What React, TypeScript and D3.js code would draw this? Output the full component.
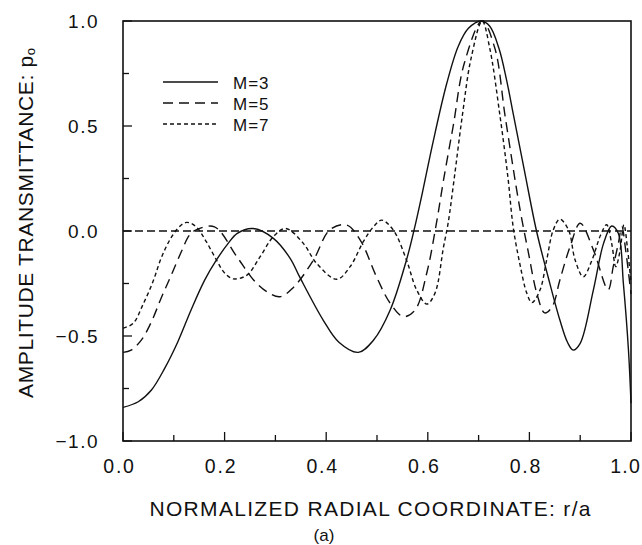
import React from "react";
import * as d3 from "d3";

// ---- data ----
const m3: [number, number][] = [
  [0, -0.84], [0.03, -0.813], [0.056, -0.757], [0.082, -0.654], [0.108, -0.527],
  [0.134, -0.376], [0.161, -0.233], [0.184, -0.138], [0.207, -0.059], [0.225, -0.011],
  [0.256, 0.012], [0.296, -0.035], [0.329, -0.13], [0.348, -0.22], [0.394, -0.424],
  [0.425, -0.53], [0.463, -0.578], [0.493, -0.52], [0.526, -0.376], [0.558, -0.138],
  [0.573, 0.005], [0.59, 0.19], [0.61, 0.42], [0.637, 0.7], [0.66, 0.88],
  [0.68, 0.965], [0.705, 1.0], [0.722, 0.975], [0.74, 0.87], [0.755, 0.72],
  [0.768, 0.56], [0.79, 0.29], [0.814, 0.0], [0.837, -0.22], [0.86, -0.424],
  [0.875, -0.53], [0.886, -0.567], [0.9, -0.535], [0.926, -0.28], [0.946, -0.059],
  [0.962, 0.024], [0.975, -0.011], [0.985, -0.25], [0.995, -0.567], [1.0, -0.82],
];
const m5: [number, number][] = [
  [0, -0.578], [0.016, -0.567], [0.036, -0.52], [0.056, -0.432], [0.075, -0.32],
  [0.095, -0.21], [0.115, -0.098], [0.131, -0.019], [0.144, 0.005], [0.18, 0.02],
  [0.224, -0.122], [0.257, -0.233], [0.283, -0.289], [0.309, -0.313], [0.335, -0.27],
  [0.375, -0.138], [0.407, 0.005], [0.44, 0.029], [0.467, -0.043], [0.499, -0.218],
  [0.526, -0.344], [0.552, -0.408], [0.575, -0.376], [0.598, -0.2], [0.617, 0.037],
  [0.631, 0.243], [0.65, 0.5], [0.672, 0.8], [0.707, 1.0], [0.732, 0.87],
  [0.752, 0.55], [0.775, 0.195], [0.784, 0.07], [0.797, -0.09], [0.815, -0.3],
  [0.83, -0.39], [0.845, -0.36], [0.86, -0.233], [0.88, -0.075], [0.9, 0.037],
  [0.926, -0.09], [0.955, -0.28], [0.965, -0.17], [0.975, -0.06], [0.982, 0.02],
  [0.99, -0.1], [1.0, -0.3],
];
const m7: [number, number][] = [
  [0, -0.463], [0.02, -0.44], [0.039, -0.352], [0.059, -0.241], [0.075, -0.13],
  [0.092, -0.043], [0.108, 0.013], [0.125, 0.041], [0.144, 0.02], [0.164, -0.051],
  [0.184, -0.138], [0.2, -0.2], [0.217, -0.228], [0.244, -0.21], [0.27, -0.122],
  [0.296, -0.027], [0.32, 0.012], [0.355, -0.059], [0.381, -0.154], [0.421, -0.23],
  [0.447, -0.17], [0.473, -0.051], [0.493, 0.02], [0.509, 0.052], [0.532, 0.005],
  [0.558, -0.138], [0.578, -0.28], [0.598, -0.348], [0.614, -0.297], [0.631, -0.075],
  [0.64, 0.037], [0.652, 0.25], [0.668, 0.55], [0.685, 0.82], [0.707, 1.0],
  [0.722, 0.87], [0.742, 0.55], [0.758, 0.25], [0.768, 0.02], [0.781, -0.154],
  [0.795, -0.297], [0.805, -0.341], [0.821, -0.28], [0.834, -0.138], [0.847, 0.005],
  [0.86, 0.056], [0.877, 0.005], [0.89, -0.138], [0.906, -0.218], [0.923, -0.14],
  [0.94, -0.02], [0.952, 0.03], [0.962, -0.06], [0.97, -0.17], [0.978, -0.1],
  [0.986, 0.03], [0.993, -0.08], [1.0, -0.25],
];

const seriesNames = ["M=3", "M=5", "M=7"];
const xMajor = [0, 0.2, 0.4, 0.6, 0.8, 1.0];
const xMajorLabels = ["0.0", "0.2", "0.4", "0.6", "0.8", "1.0"];
const xMinor = [0.1, 0.3, 0.5, 0.7, 0.9];
const yMajor = [-1, -0.5, 0, 0.5, 1];
const yMajorLabels = ["\u22121.0", "\u22120.5", "0.0", "0.5", "1.0"];
const yMinor = [-0.75, -0.25, 0.25, 0.75];
const xTitle = "NORMALIZED RADIAL COORDINATE: r/a";
const yTitle = "AMPLITUDE TRANSMITTANCE: ";

const W = 642, H = 545;
const L = 123, R = 631, T = 21, B = 441;
const FONT = "'Liberation Sans', Arial, sans-serif";

export default function App() {
  const x = d3.scaleLinear().domain([0, 1]).range([L, R]);
  const y = d3.scaleLinear().domain([-1, 1]).range([B, T]);
  const line = d3
    .line<[number, number]>()
    .x((d) => x(d[0]))
    .y((d) => y(d[1]))
    .curve(d3.curveCatmullRom.alpha(0.5));

  const series = [
    { data: m3, dash: "none" },
    { data: m5, dash: "10,6" },
    { data: m7, dash: "4,3" },
  ];

  return (
    <svg width={W} height={H} style={{ position: "absolute", left: 0, top: 0, background: "#fff" }}>
      <rect x={0} y={0} width={W} height={H} fill="#fff" />
      <defs>
        <clipPath id="plot">
          <rect x={L} y={T - 2} width={R - L + 1} height={B - T + 4} />
        </clipPath>
      </defs>

      {/* zero reference line */}
      <line x1={x(0)} x2={x(1)} y1={y(0)} y2={y(0)} stroke="#111" strokeWidth={1.3} strokeDasharray="8,4" />

      {/* curves */}
      <g clipPath="url(#plot)">
        {series.map((s, i) => (
          <path
            key={i}
            d={line(s.data) || ""}
            fill="none"
            stroke="#111"
            strokeWidth={1.4}
            strokeDasharray={s.dash}
          />
        ))}
      </g>

      {/* frame */}
      <rect x={L} y={T} width={R - L} height={B - T} fill="none" stroke="#111" strokeWidth={1.6} />

      {/* y ticks */}
      {yMajor.map((v, i) => (
        <g key={"ym" + i}>
          <line x1={L} x2={L + 9} y1={y(v)} y2={y(v)} stroke="#111" strokeWidth={1.3} />
          <text
            x={99}
            y={y(v)}
            dy="0.36em"
            textAnchor="end"
            fontFamily={FONT}
            fontSize={19}
            letterSpacing={1.5}
            fill="#111"
          >
            {yMajorLabels[i]}
          </text>
        </g>
      ))}
      {yMinor.map((v, i) => (
        <line key={"yn" + i} x1={L} x2={L + 6} y1={y(v)} y2={y(v)} stroke="#111" strokeWidth={1.3} />
      ))}

      {/* x ticks */}
      {xMajor.map((v, i) => (
        <g key={"xm" + i}>
          <line x1={x(v)} x2={x(v)} y1={B} y2={B - 9} stroke="#111" strokeWidth={1.3} />
          <text
            x={i === xMajor.length - 1 ? 641 : x(v) - 3.5}
            y={473}
            textAnchor={i === xMajor.length - 1 ? "end" : "middle"}
            fontFamily={FONT}
            fontSize={19.5}
            letterSpacing={i === xMajor.length - 1 ? 1.2 : 1.8}
            fill="#111"
          >
            {xMajorLabels[i]}
          </text>
        </g>
      ))}
      {xMinor.map((v, i) => (
        <line key={"xn" + i} x1={x(v)} x2={x(v)} y1={B} y2={B - 6} stroke="#111" strokeWidth={1.3} />
      ))}

      {/* legend */}
      {series.map((s, i) => (
        <g key={"lg" + i}>
          <line
            x1={163}
            x2={218}
            y1={82 + i * 21}
            y2={82 + i * 21}
            stroke="#111"
            strokeWidth={1.4}
            strokeDasharray={s.dash}
          />
          <text
            x={233}
            y={82 + i * 21 + 6.5}
            fontFamily={FONT}
            fontSize={17}
            letterSpacing={1}
            fill="#111"
          >
            {seriesNames[i]}
          </text>
        </g>
      ))}

      {/* axis titles */}
      <text
        x={370}
        y={516}
        textAnchor="middle"
        fontFamily={FONT}
        fontSize={21}
        textLength={441}
        lengthAdjust="spacing"
        fill="#111"
      >
        {xTitle}
      </text>
      <text
        transform="translate(33,223) rotate(-90)"
        textAnchor="middle"
        fontFamily={FONT}
        fontSize={21}
        fill="#111"
        textLength={350}
        lengthAdjust="spacing"
      >
        {yTitle}
        <tspan>p</tspan>
        <tspan fontSize={13} dy={2}>o</tspan>
      </text>
      <text x={324} y={541} textAnchor="middle" fontFamily={FONT} fontSize={17} fill="#111">
        (a)
      </text>
    </svg>
  );
}
